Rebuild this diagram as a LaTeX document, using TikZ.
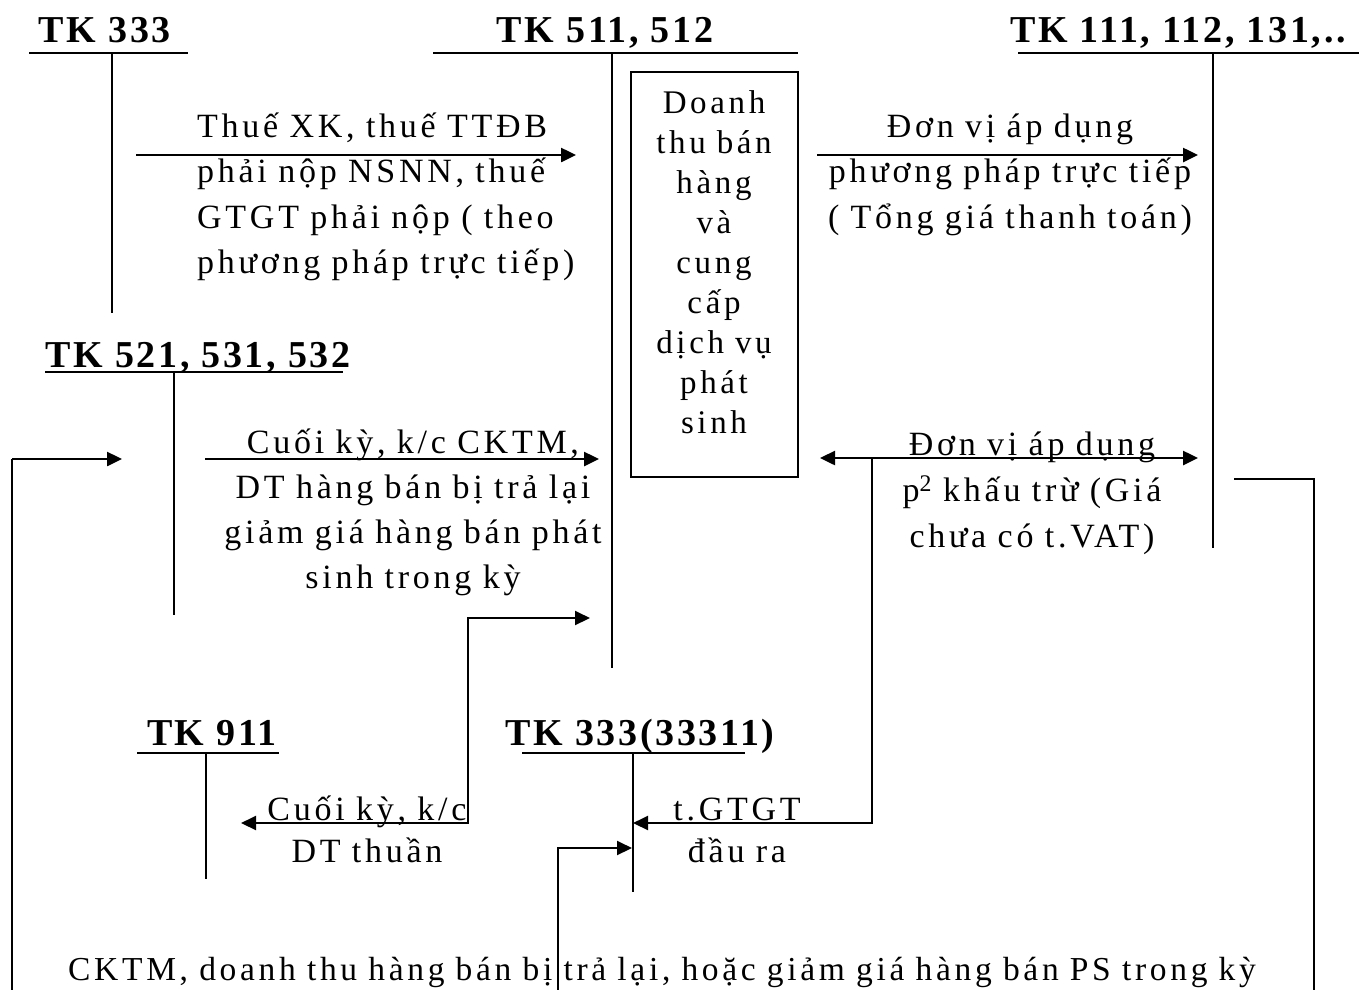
\documentclass[tikz,border=0pt]{standalone}
\usepackage{fontspec}
\setmainfont{Liberation Serif}[LetterSpace=11]
\newfontfamily\headfont{Liberation Serif}[LetterSpace=7]
\usetikzlibrary{arrows.meta}

\tikzset{
  acc/.style={line width=1.5pt},
  accbar/.style={line width=2pt},
  tip/.style={-{Triangle[length=15pt,width=14pt]}},
  flow/.style={line width=2.5pt, tip},
  biflow/.style={line width=2.5pt, {Triangle[length=15pt,width=14pt]}-{Triangle[length=15pt,width=14pt]}},
  elbow/.style={line width=2pt},
  head/.style={font=\headfont\bfseries\fontsize{38}{40}\selectfont, anchor=base, inner sep=0},
  lbl/.style={font=\fontsize{34}{45.5}\selectfont, anchor=base, inner sep=0, text width=440pt, align=center},
}

\begin{document}
\begin{tikzpicture}[x=1pt, y=-1pt]
\useasboundingbox (0,0) rectangle (1359,989);
\clip (0,0) rectangle (1359,989);

% ---- T-accounts: heading, bar, stem ----
\node[head] (h333) at (105,42) {TK 333};
\coordinate (a333l) at (29,53);  \coordinate (a333r) at (188,53);
\coordinate (a333t) at (112,53); \coordinate (a333b) at (112,313);
\draw[accbar] (a333l) -- (a333r);
\draw[acc] (a333t) -- (a333b);

\node[head] (h511) at (605,42) {TK 511, 512};
\coordinate (a511l) at (433,53);  \coordinate (a511r) at (798,53);
\coordinate (a511t) at (612,53);  \coordinate (a511b) at (612,668);
\draw[accbar] (a511l) -- (a511r);
\draw[acc] (a511t) -- (a511b);

\node[head] (h111) at (1178,42) {TK 111, 112, 131,..};
\coordinate (a111l) at (1018,53); \coordinate (a111r) at (1359,53);
\coordinate (a111t) at (1213,53); \coordinate (a111b) at (1213,548);
\draw[accbar] (a111l) -- (a111r);
\draw[acc] (a111t) -- (a111b);

\node[head] (h521) at (198,367) {TK 521, 531, 532};
\coordinate (a521l) at (45,372);  \coordinate (a521r) at (343,372);
\coordinate (a521t) at (174,372); \coordinate (a521b) at (174,615);
\draw[line width=2.5pt] (a521l) -- (a521r);
\draw[acc] (a521t) -- (a521b);

\node[head] (h911) at (212,745) {TK 911};
\coordinate (a911l) at (137,753); \coordinate (a911r) at (279,753);
\coordinate (a911t) at (206,753); \coordinate (a911b) at (206,879);
\draw[accbar] (a911l) -- (a911r);
\draw[acc] (a911t) -- (a911b);

\node[head] (h3331) at (640,745) {TK 333(33311)};
\coordinate (a3331l) at (522,753); \coordinate (a3331r) at (745,753);
\coordinate (a3331t) at (633,753); \coordinate (a3331b) at (633,892);
\draw[accbar] (a3331l) -- (a3331r);
\draw[acc] (a3331t) -- (a3331b);

% ---- revenue box ----
\node[draw, line width=2pt, minimum width=167pt, minimum height=405pt, inner sep=0] (dt) at (714.5,274.5) {};
\node[font=\fontsize{33}{40}\selectfont, anchor=base, inner sep=0, text width=160pt, align=center] (dttxt) at (714,113)
  {Doanh\\thu bán\\hàng\\và\\cung\\cấp\\dịch vụ\\phát\\sinh};

% ---- labels ----
\node[font=\fontsize{34}{45.5}\selectfont, anchor=base west, inner sep=0, text width=420pt, align=left] (l1) at (197,137)
  {Thuế XK, thuế TTĐB\\phải nộp NSNN, thuế\\GTGT phải nộp ( theo\\phương pháp trực tiếp)};
\node[lbl] (l2) at (1010,137) {Đơn vị áp dụng\\phương pháp trực tiếp\\( Tổng giá thanh toán)};
\node[lbl, font=\fontsize{34}{45}\selectfont] (l3) at (413,453)
  {Cuối kỳ, k/c CKTM,\\DT hàng bán bị trả lại\\giảm giá hàng bán phát\\sinh trong kỳ};
\node[lbl, font=\fontsize{34}{46}\selectfont] (l4) at (1032,455)
  {Đơn vị áp dụng\\p\textsuperscript{2} khấu trừ (Giá\\chưa có t.VAT)};
\node[lbl, font=\fontsize{34}{42}\selectfont] (l5) at (737,820) {t.GTGT\\đầu ra};
\node[lbl, font=\fontsize{34}{42}\selectfont] (l6) at (367,820) {Cuối kỳ, k/c\\DT thuần};
\node[lbl, font=\fontsize{33.5}{40}\selectfont, text width=1320pt] (l7) at (662,980)
  {CKTM, doanh thu hàng bán bị trả lại, hoặc giảm giá hàng bán PS trong kỳ};

% ---- flows ----
\coordinate (f1s) at (136,155);  \coordinate (f1e) at (576,155);
\draw[flow] (f1s) -- (f1e);

\coordinate (f2s) at (817,155);  \coordinate (f2e) at (1198,155);
\draw[flow] (f2s) -- (f2e);

\coordinate (f3s) at (205,459);  \coordinate (f3e) at (599,459);
\draw[flow] (f3s) -- (f3e);

\coordinate (f4s) at (820,458);  \coordinate (f4e) at (1198,458);
\draw[biflow] (f4s) -- (f4e);

% output VAT: from the deduction arrow down to TK 33311
\coordinate (f5s) at (872,458); \coordinate (f5k) at (872,823); \coordinate (f5e) at (633,823);
\draw[elbow, tip] (f5s) -- (f5k) -- (f5e);

% closing transfer between TK 511 and TK 911
\coordinate (f6a) at (241,823); \coordinate (f6k1) at (468,823);
\coordinate (f6k2) at (468,618); \coordinate (f6b) at (590,618);
\draw[elbow, {Triangle[length=15pt,width=14pt]}-{Triangle[length=15pt,width=14pt]}] (f6a) -- (f6k1) -- (f6k2) -- (f6b);

% returns entered into TK 33311
\coordinate (f7s) at (558,1010); \coordinate (f7k) at (558,848); \coordinate (f7e) at (632,848);
\draw[elbow, tip] (f7s) -- (f7k) -- (f7e);

% returns / discounts loop from TK 111 back to TK 521
\coordinate (g1) at (1234,479); \coordinate (g2) at (1314,479);
\coordinate (g3) at (1314,1010); \coordinate (g4) at (12,1010);
\coordinate (g5) at (12,459); \coordinate (g6) at (122,459);
\draw[elbow] (g1) -- (g2) -- (g3) -- (g4) -- (g5);
\draw[flow] (g5) -- (g6);
\end{tikzpicture}
\end{document}
